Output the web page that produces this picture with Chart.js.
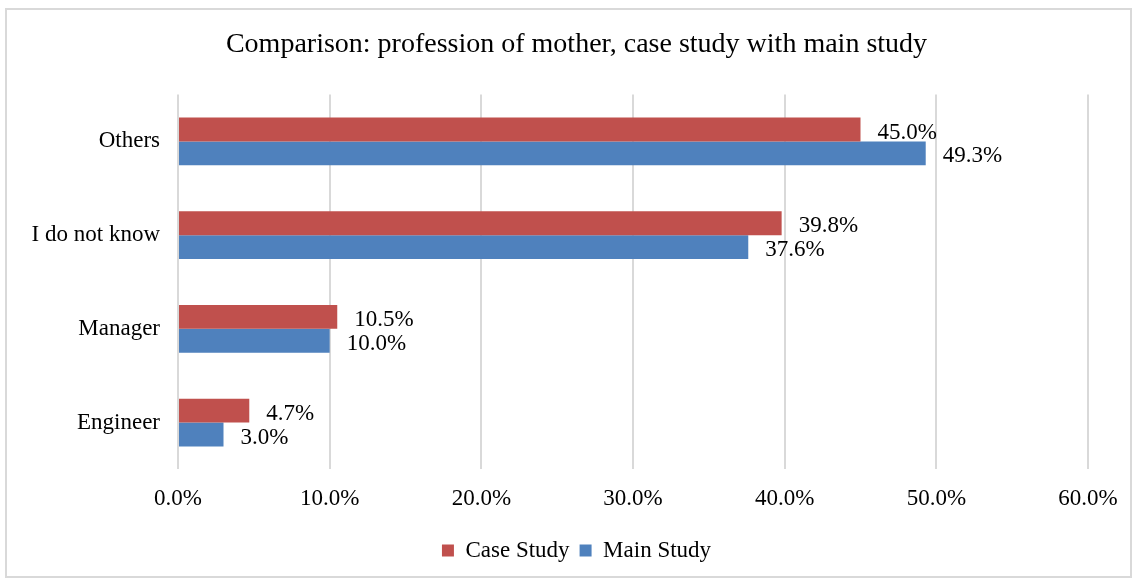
<!DOCTYPE html>
<html>
<head>
<meta charset="utf-8">
<script src="https://cdn.jsdelivr.net/npm/chart.js@4"></script>
<style>
  html, body { margin: 0; padding: 0; background: #fff; }
  #box {
    position: absolute; left: 5px; top: 8px;
    width: 1123px; height: 566px;
    border: 2px solid #d9d9d9;
  }
</style>
</head>
<body>
<div id="box"><canvas id="myChart" width="1123" height="566"></canvas></div>
<script>
// categories, top to bottom
const categories = ['Others', 'I do not know', 'Manager', 'Engineer'];
const caseStudy = [45.0, 39.8, 10.5, 4.7];
const mainStudy = [49.3, 37.6, 10.0, 3.0];
const xTicks = [0, 10, 20, 30, 40, 50, 60];

const serif = "'Liberation Serif', 'Times New Roman', serif";

// little plugin to write the value at the end of each bar
const valueLabels = {
  id: 'valueLabels',
  afterDatasetsDraw(chart) {
    const ctx = chart.ctx;
    ctx.save();
    ctx.font = '23px ' + serif;
    ctx.fillStyle = '#000';
    ctx.textAlign = 'left';
    ctx.textBaseline = 'middle';
    chart.data.datasets.forEach((ds, i) => {
      chart.getDatasetMeta(i).data.forEach((bar, j) => {
        ctx.fillText(ds.data[j].toFixed(1) + '%', bar.x + 17, bar.y + 3);
      });
    });
    ctx.restore();
  }
};

const ctx = document.getElementById('myChart');

new Chart(ctx, {
  type: 'bar',
  data: {
    labels: categories,
    datasets: [{
      label: 'Case Study',
      data: caseStudy,
      backgroundColor: '#C0504D',
      borderWidth: 0,
      barPercentage: 1.0,
      categoryPercentage: 0.51
    }, {
      label: 'Main Study',
      data: mainStudy,
      backgroundColor: '#4F81BD',
      borderWidth: 0,
      barPercentage: 1.0,
      categoryPercentage: 0.51
    }]
  },
  plugins: [valueLabels],
  options: {
    indexAxis: 'y',
    responsive: false,
    animation: false,
    layout: { padding: { left: 24, right: 8, top: 0, bottom: 4 } },
    scales: {
      x: {
        min: 0,
        max: 60,
        afterBuildTicks(scale) {
          scale.ticks = xTicks.map(v => ({ value: v }));
        },
        afterFit(scale) { scale.paddingRight = 42; },
        ticks: {
          callback: v => v.toFixed(1) + '%',
          font: { family: serif, size: 23 },
          color: '#000',
          padding: 16
        },
        grid: { color: '#d9d9d9', lineWidth: 2, drawTicks: false },
        border: { display: false }
      },
      y: {
        afterFit(scale) { scale.width = 147; },
        ticks: {
          font: { family: serif, size: 23 },
          color: '#000',
          padding: 10
        },
        grid: { display: false },
        border: { display: false }
      }
    },
    plugins: {
      title: {
        display: true,
        text: 'Comparison: profession of mother, case study with main study',
        font: { family: serif, size: 28, weight: 'normal' },
        color: '#000',
        padding: { top: 18, bottom: 33 }
      },
      legend: {
        position: 'bottom',
        labels: {
          boxWidth: 12,
          boxHeight: 12,
          font: { family: serif, size: 23 },
          color: '#000',
          padding: 10
        }
      },
      tooltip: { enabled: false }
    }
  }
});
</script>
</body>
</html>
